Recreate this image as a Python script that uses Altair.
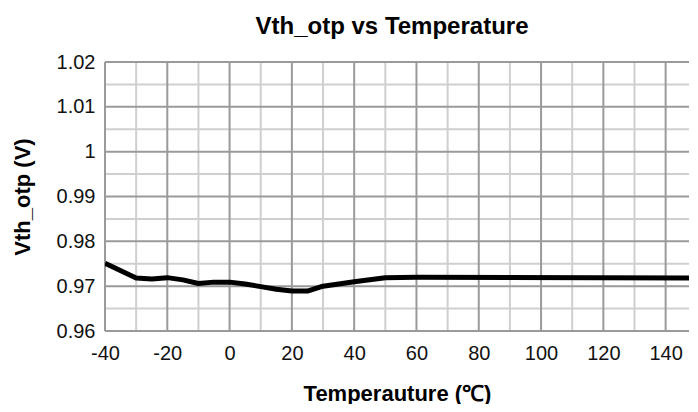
import altair as alt
import pandas as pd

temps = [-40, -30, -25, -20, -15, -10, -5, 0, 5, 10, 15, 20, 25, 30, 40, 50, 60, 150]
vth = [0.9751, 0.9718, 0.9716, 0.9719, 0.9714, 0.9706, 0.9709, 0.9709, 0.9705,
       0.9699, 0.9693, 0.9689, 0.9689, 0.9700, 0.9710, 0.9719, 0.9720, 0.9718]

x_major = [-40, -20, 0, 20, 40, 60, 80, 100, 120, 140]
x_minor = [-30, -10, 10, 30, 50, 70, 90, 110, 130]
y_major = [0.96, 0.97, 0.98, 0.99, 1.00, 1.01, 1.02]
y_minor = [0.965, 0.975, 0.985, 0.995, 1.005, 1.015]

FONT = "Liberation Sans"
df = pd.DataFrame({"t": temps, "v": vth})

xs = alt.Scale(domain=[-40, 147.5], nice=False, zero=False, clamp=False)
ys = alt.Scale(domain=[0.96, 1.02], nice=False, zero=False)

xaxis = alt.Axis(title="Temperauture (℃)", values=x_major, grid=False, domain=False, ticks=False,
                 labelFont=FONT, labelFontSize=20, labelColor="#111111", labelPadding=12,
                 labelFlush=False, labelExpr="toString(datum.value)",
                 titleFont=FONT, titleFontSize=22, titleFontWeight="bold", titleColor="#000000",
                 titlePadding=20)
yaxis = alt.Axis(title="Vth_otp (V)", values=y_major, grid=False, domain=False, ticks=False,
                 labelFont=FONT, labelFontSize=20, labelColor="#111111", labelPadding=10,
                 labelExpr="datum.value == 1 ? '1' : format(datum.value, '.2f')",
                 titleFont=FONT, titleFontSize=22, titleFontWeight="bold", titleColor="#000000",
                 titlePadding=22)

xminor = alt.Chart(pd.DataFrame({"t": x_minor})).mark_rule(color="#cfcfcf", strokeWidth=2).encode(
    x=alt.X("t:Q", scale=xs, axis=xaxis))
yminor = alt.Chart(pd.DataFrame({"v": y_minor})).mark_rule(color="#cfcfcf", strokeWidth=2).encode(
    y=alt.Y("v:Q", scale=ys, axis=yaxis))
xmajor = alt.Chart(pd.DataFrame({"t": x_major})).mark_rule(color="#9a9a9a", strokeWidth=2).encode(
    x=alt.X("t:Q", scale=xs, axis=xaxis))
ymajor = alt.Chart(pd.DataFrame({"v": y_major})).mark_rule(color="#9a9a9a", strokeWidth=2).encode(
    y=alt.Y("v:Q", scale=ys, axis=yaxis))

line = alt.Chart(df).mark_line(color="#000000", strokeWidth=5, strokeJoin="round", clip=True).encode(
    x=alt.X("t:Q", scale=xs, axis=xaxis),
    y=alt.Y("v:Q", scale=ys, axis=yaxis),
)

chart = alt.layer(xminor, yminor, xmajor, ymajor, line).properties(
    width=584, height=269,
    autosize=alt.AutoSizeParams(type="none"),
    padding={"left": 97, "top": 54, "right": 1, "bottom": 73},
    title=alt.TitleParams("Vth_otp vs Temperature", font=FONT, fontSize=24, fontWeight="bold",
                          color="#000000", anchor="middle", offset=13, dx=-5),
).configure_view(stroke=None)

chart.save("out.html", embed_options={"renderer": "svg", "actions": False})
